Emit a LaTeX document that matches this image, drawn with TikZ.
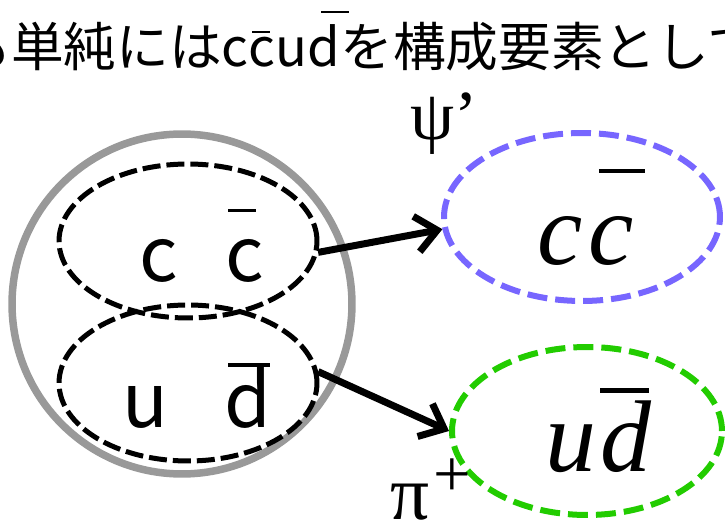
\documentclass[tikz,border=0pt]{standalone}
\usepackage{fontspec}
\usetikzlibrary{shapes.geometric, arrows.meta}
\newfontfamily\jpfont{Noto Sans CJK JP}
\newfontfamily\tmfont{Liberation Serif}
\definecolor{mesonblue}{RGB}{119,102,255}
\definecolor{mesongreen}{RGB}{34,204,0}
\newcommand{\qbar}[4]{\makebox[0pt][l]{\hspace*{#1}\rule[#2]{#3}{0.045em}}#4}

\begin{document}
\begin{tikzpicture}[x=0.02cm, y=-0.02cm,
  pair/.style={draw, ellipse, line width=0.1cm, dash pattern=on 0.36cm off 0.12cm, inner sep=0},
  meson/.style={draw, ellipse, line width=0.12cm, dash pattern=on 0.4cm off 0.16cm, inner sep=0},
  txt/.style={anchor=base west, inner sep=0},
  decay/.style={line width=0.14cm, -{Straight Barb[length=0.42cm, width=0.72cm]}}]
  \path[use as bounding box, clip] (0,0) rectangle (725,527);
  \node[txt, font=\jpfont\fontsize{30}{36}\selectfont] (title) at (-42,67)
    {も単純にはc\qbar{0.07em}{0.64em}{0.34em}{c}u\qbar{0.26em}{1.02em}{0.53em}{d}を構成要素として};
  \node[draw, circle, line width=0.15cm, color=gray!80, minimum size=6.8cm, inner sep=0] (hadron) at (182,304) {};
  \node[pair, minimum width=5.16cm, minimum height=3.08cm] (ccpair) at (188,241) {};
  \node[pair, minimum width=5.16cm, minimum height=3.12cm] (udpair) at (188,383) {};
  \node[txt, font=\jpfont\fontsize{43}{50}\selectfont] (cq) at (139,282) {c};
  \node[txt, font=\jpfont\fontsize{43}{50}\selectfont] (cbarq) at (225,282) {\qbar{0.04em}{0.92em}{0.37em}{c}};
  \node[txt, font=\jpfont\fontsize{43}{50}\selectfont] (uq) at (122,428) {u};
  \node[txt, font=\jpfont\fontsize{43}{50}\selectfont] (dbarq) at (224,428) {\qbar{0.05em}{0.81em}{0.56em}{d}};
  \node[meson, mesonblue, minimum width=5.52cm, minimum height=3.36cm] (ccbar) at (582,217) {};
  \node[meson, mesongreen, minimum width=5.40cm, minimum height=3.36cm] (udbar) at (587,431) {};
  \node[txt, font=\tmfont\itshape\fontsize{58}{62}\selectfont] (cctxt) at (537,265) {c\hspace{0.06em}\qbar{0.1em}{0.9em}{0.45em}{c}};
  \node[txt, font=\tmfont\itshape\fontsize{58}{62}\selectfont] (udtxt) at (545,472) {u\hspace{0.04em}\qbar{0em}{0.78em}{0.48em}{d}};
  \node[txt, font=\tmfont\fontsize{40}{44}\selectfont] (psilbl) at (410,140) {ψ’};
  \node[txt, font=\tmfont\fontsize{44}{48}\selectfont] (pilbl) at (390,520) {π\hspace{0.05em}\raisebox{0.3em}{\fontsize{38}{38}\selectfont+}};
  \draw[decay] (ccpair.-5) -- (ccbar.185);
  \draw[decay] (udpair.5) -- (udbar.west);
\end{tikzpicture}
\end{document}
